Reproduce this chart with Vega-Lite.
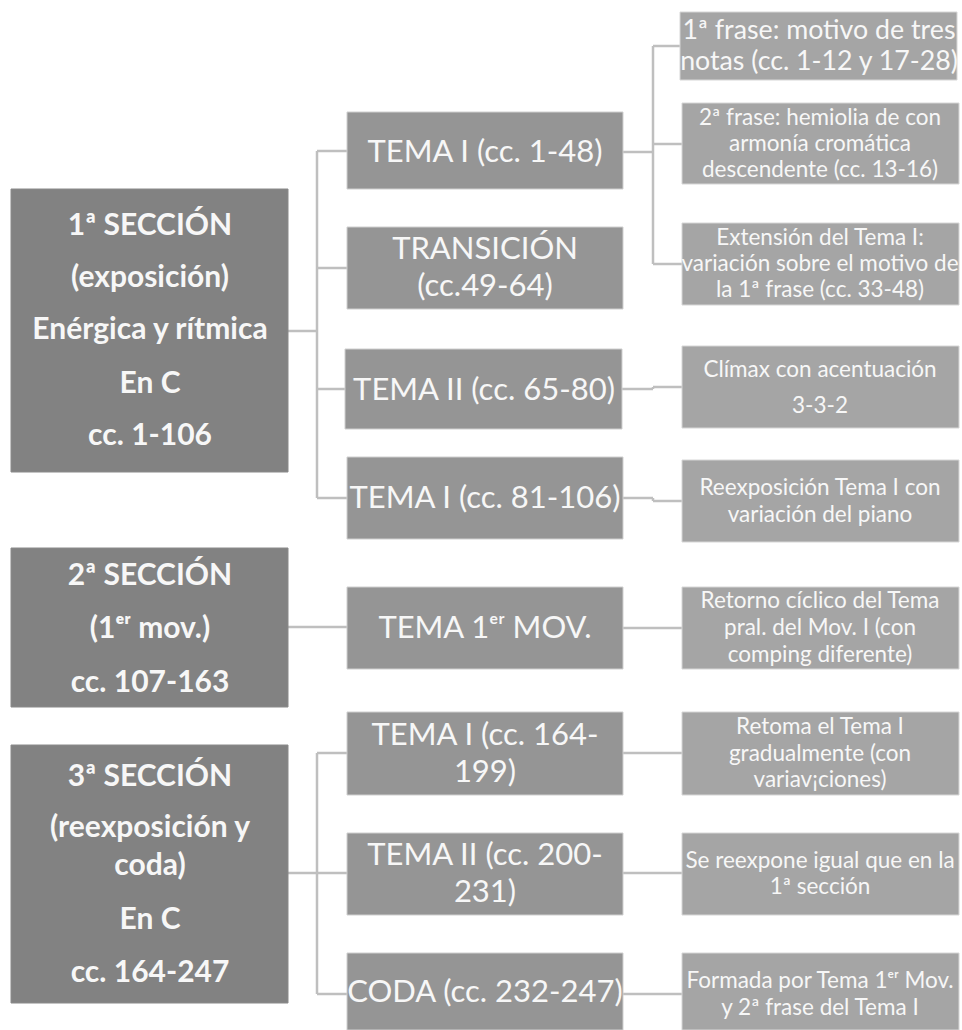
{
  "$schema": "https://vega.github.io/schema/vega-lite/v6.json",
  "width": 962,
  "height": 1030,
  "padding": 0,
  "autosize": {"type": "none"},
  "background": "white",
  "config": {"view": {"stroke": null}},
  "datasets": {
    "boxes": [
      {"id": "s1", "level": "1", "x0": 11, "x1": 288, "y0": 189, "y1": 472},
      {"id": "s2", "level": "1", "x0": 11, "x1": 288, "y0": 548, "y1": 707},
      {"id": "s3", "level": "1", "x0": 11, "x1": 288, "y0": 745, "y1": 1003},
      {"id": "t1", "level": "2", "x0": 347, "x1": 623, "y0": 112, "y1": 189},
      {"id": "t2", "level": "2", "x0": 347, "x1": 623, "y0": 227, "y1": 309},
      {"id": "t3", "level": "2", "x0": 345, "x1": 622, "y0": 349, "y1": 429},
      {"id": "t4", "level": "2", "x0": 347, "x1": 623, "y0": 457, "y1": 539},
      {"id": "t5", "level": "2", "x0": 347, "x1": 623, "y0": 587, "y1": 669},
      {"id": "t6", "level": "2", "x0": 347, "x1": 623, "y0": 712, "y1": 795},
      {"id": "t7", "level": "2", "x0": 347, "x1": 623, "y0": 833, "y1": 915},
      {"id": "t8", "level": "2", "x0": 347, "x1": 623, "y0": 953, "y1": 1030},
      {"id": "d1", "level": "3", "x0": 680, "x1": 957, "y0": 12, "y1": 80},
      {"id": "d2", "level": "3", "x0": 682, "x1": 959, "y0": 103, "y1": 184},
      {"id": "d3", "level": "3", "x0": 682, "x1": 959, "y0": 223, "y1": 305},
      {"id": "d4", "level": "3", "x0": 682, "x1": 959, "y0": 346, "y1": 428},
      {"id": "d5", "level": "3", "x0": 682, "x1": 959, "y0": 460, "y1": 542},
      {"id": "d6", "level": "3", "x0": 682, "x1": 959, "y0": 587, "y1": 669},
      {"id": "d7", "level": "3", "x0": 682, "x1": 959, "y0": 712, "y1": 795},
      {"id": "d8", "level": "3", "x0": 682, "x1": 959, "y0": 833, "y1": 915},
      {"id": "d9", "level": "3", "x0": 682, "x1": 959, "y0": 953, "y1": 1030}
    ],
    "links": [
      {"x0": 288, "y0": 331, "x1": 317, "y1": 331},
      {"x0": 317, "y0": 151, "x1": 317, "y1": 498},
      {"x0": 317, "y0": 151, "x1": 347, "y1": 151},
      {"x0": 317, "y0": 268, "x1": 347, "y1": 268},
      {"x0": 317, "y0": 389, "x1": 345, "y1": 389},
      {"x0": 317, "y0": 498, "x1": 347, "y1": 498},
      {"x0": 288, "y0": 627, "x1": 347, "y1": 627},
      {"x0": 288, "y0": 873, "x1": 317, "y1": 873},
      {"x0": 317, "y0": 753, "x1": 317, "y1": 994},
      {"x0": 317, "y0": 753, "x1": 347, "y1": 753},
      {"x0": 317, "y0": 873, "x1": 347, "y1": 873},
      {"x0": 317, "y0": 994, "x1": 347, "y1": 994},
      {"x0": 623, "y0": 152, "x1": 653, "y1": 152},
      {"x0": 653, "y0": 46, "x1": 653, "y1": 264},
      {"x0": 653, "y0": 46, "x1": 680, "y1": 46},
      {"x0": 653, "y0": 144, "x1": 682, "y1": 144},
      {"x0": 653, "y0": 264, "x1": 682, "y1": 264},
      {"x0": 622, "y0": 389, "x1": 653, "y1": 389},
      {"x0": 653, "y0": 389, "x1": 653, "y1": 387},
      {"x0": 653, "y0": 387, "x1": 682, "y1": 387},
      {"x0": 623, "y0": 498, "x1": 653, "y1": 498},
      {"x0": 653, "y0": 498, "x1": 653, "y1": 501},
      {"x0": 653, "y0": 501, "x1": 682, "y1": 501},
      {"x0": 623, "y0": 628, "x1": 682, "y1": 628},
      {"x0": 623, "y0": 753, "x1": 682, "y1": 753},
      {"x0": 623, "y0": 873, "x1": 682, "y1": 873},
      {"x0": 623, "y0": 994, "x1": 682, "y1": 994}
    ],
    "labels": [
      {"kind": "section", "text": "1ª SECCIÓN", "tx": 150, "ty": 235},
      {"kind": "section", "text": "(exposición)", "tx": 150, "ty": 287},
      {"kind": "section", "text": "Enérgica y rítmica", "tx": 150, "ty": 339},
      {"kind": "section", "text": "En C", "tx": 150, "ty": 393},
      {"kind": "section", "text": "cc. 1-106", "tx": 150, "ty": 445},
      {"kind": "section", "text": "2ª SECCIÓN", "tx": 150, "ty": 585},
      {"kind": "section", "text": "(1ᵉʳ mov.)", "tx": 150, "ty": 638},
      {"kind": "section", "text": "cc. 107-163", "tx": 150, "ty": 692},
      {"kind": "section", "text": "3ª SECCIÓN", "tx": 150, "ty": 786},
      {"kind": "section", "text": "(reexposición y", "tx": 150, "ty": 837},
      {"kind": "section", "text": "coda)", "tx": 150, "ty": 875},
      {"kind": "section", "text": "En C", "tx": 150, "ty": 929},
      {"kind": "section", "text": "cc. 164-247", "tx": 150, "ty": 982},
      {"kind": "theme", "text": "TEMA I (cc. 1-48)", "tx": 485, "ty": 162},
      {"kind": "theme", "text": "TRANSICIÓN", "tx": 485, "ty": 259},
      {"kind": "theme", "text": "(cc.49-64)", "tx": 485, "ty": 296},
      {"kind": "theme", "text": "TEMA II (cc. 65-80)", "tx": 484, "ty": 400},
      {"kind": "theme", "text": "TEMA I (cc. 81-106)", "tx": 485, "ty": 508},
      {"kind": "theme", "text": "TEMA 1ᵉʳ MOV.", "tx": 485, "ty": 638},
      {"kind": "theme", "text": "TEMA I (cc. 164-", "tx": 485, "ty": 745},
      {"kind": "theme", "text": "199)", "tx": 485, "ty": 782},
      {"kind": "theme", "text": "TEMA II (cc. 200-", "tx": 485, "ty": 865},
      {"kind": "theme", "text": "231)", "tx": 485, "ty": 902},
      {"kind": "theme", "text": "CODA (cc. 232-247)", "tx": 485, "ty": 1002},
      {"kind": "lead", "text": "1ª frase: motivo de tres", "tx": 819, "ty": 39},
      {"kind": "lead", "text": "notas (cc. 1-12 y 17-28)", "tx": 819, "ty": 70},
      {"kind": "detail", "text": "2ª frase: hemiolia de con", "tx": 820, "ty": 125},
      {"kind": "detail", "text": "armonía cromática", "tx": 820, "ty": 151},
      {"kind": "detail", "text": "descendente (cc. 13-16)", "tx": 820, "ty": 177},
      {"kind": "detail", "text": "Extensión del Tema I:", "tx": 820, "ty": 245},
      {"kind": "detail", "text": "variación sobre el motivo de", "tx": 820, "ty": 271},
      {"kind": "detail", "text": "la 1ª frase (cc. 33-48)", "tx": 820, "ty": 297},
      {"kind": "detail", "text": "Clímax con acentuación", "tx": 820, "ty": 377},
      {"kind": "detail", "text": "3-3-2", "tx": 820, "ty": 413},
      {"kind": "detail", "text": "Reexposición Tema I con", "tx": 820, "ty": 495},
      {"kind": "detail", "text": "variación del piano", "tx": 820, "ty": 522},
      {"kind": "detail", "text": "Retorno cíclico del Tema", "tx": 820, "ty": 608},
      {"kind": "detail", "text": "pral. del Mov. I (con", "tx": 820, "ty": 635},
      {"kind": "detail", "text": "comping diferente)", "tx": 820, "ty": 662},
      {"kind": "detail", "text": "Retoma el Tema I", "tx": 820, "ty": 734},
      {"kind": "detail", "text": "gradualmente (con", "tx": 820, "ty": 761},
      {"kind": "detail", "text": "variav¡ciones)", "tx": 820, "ty": 787},
      {"kind": "detail", "text": "Se reexpone igual que en la", "tx": 820, "ty": 868},
      {"kind": "detail", "text": "1ª sección", "tx": 820, "ty": 894},
      {"kind": "detail", "text": "Formada por Tema 1ᵉʳ Mov.", "tx": 820, "ty": 988},
      {"kind": "detail", "text": "y 2ª frase del Tema I", "tx": 820, "ty": 1015}
    ]
  },
  "layer": [
    {
      "data": {"name": "links"},
      "mark": {"type": "rule", "color": "#bfbfbf", "strokeWidth": 2.5},
      "encoding": {
        "x": {"field": "x0", "type": "quantitative", "scale": {"domain": [0, 962], "nice": false, "zero": false}, "axis": null},
        "x2": {"field": "x1"},
        "y": {"field": "y0", "type": "quantitative", "scale": {"domain": [0, 1030], "nice": false, "zero": false, "reverse": true}, "axis": null},
        "y2": {"field": "y1"}
      }
    },
    {
      "data": {"name": "boxes"},
      "mark": {"type": "rect", "strokeWidth": 1},
      "encoding": {
        "x": {"field": "x0", "type": "quantitative", "scale": {"domain": [0, 962], "nice": false, "zero": false}, "axis": null},
        "x2": {"field": "x1"},
        "y": {"field": "y0", "type": "quantitative", "scale": {"domain": [0, 1030], "nice": false, "zero": false, "reverse": true}, "axis": null},
        "y2": {"field": "y1"},
        "fill": {"field": "level", "type": "nominal", "scale": {"domain": ["1", "2", "3"], "range": ["#828282", "#959595", "#a5a5a5"]}, "legend": null},
        "stroke": {"field": "level", "type": "nominal", "scale": {"domain": ["1", "2", "3"], "range": ["#8a8a8a", "#cfcfcf", "#d6d6d6"]}, "legend": null}
      }
    },
    {
      "data": {"name": "labels"},
      "transform": [{"filter": "datum.kind === 'section'"}],
      "mark": {"type": "text", "font": "Lato", "fontWeight": "bold", "align": "center", "baseline": "alphabetic", "color": "#f7f7f7", "fontSize": 30},
      "encoding": {
        "x": {"field": "tx", "type": "quantitative", "scale": {"domain": [0, 962], "nice": false, "zero": false}, "axis": null},
        "y": {"field": "ty", "type": "quantitative", "scale": {"domain": [0, 1030], "nice": false, "zero": false, "reverse": true}, "axis": null},
        "text": {"field": "text", "type": "nominal"}
      }
    },
    {
      "data": {"name": "labels"},
      "transform": [{"filter": "datum.kind !== 'section'"}],
      "mark": {"type": "text", "font": "Lato", "align": "center", "baseline": "alphabetic", "color": "#f7f7f7"},
      "encoding": {
        "x": {"field": "tx", "type": "quantitative", "scale": {"domain": [0, 962], "nice": false, "zero": false}, "axis": null},
        "y": {"field": "ty", "type": "quantitative", "scale": {"domain": [0, 1030], "nice": false, "zero": false, "reverse": true}, "axis": null},
        "text": {"field": "text", "type": "nominal"},
        "size": {"field": "kind", "type": "nominal", "scale": {"domain": ["theme", "lead", "detail"], "range": [31, 22.5, 20.3]}, "legend": null}
      }
    }
  ]
}
